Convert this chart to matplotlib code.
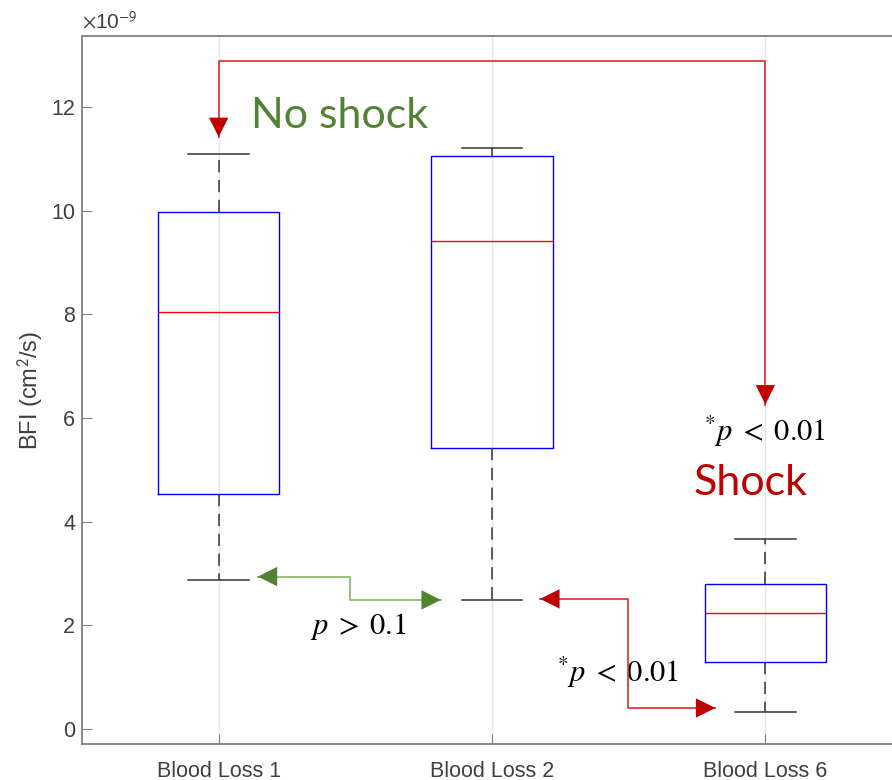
import numpy as np
import matplotlib
matplotlib.use('Agg')
import matplotlib.pyplot as plt

plt.rcParams['font.family'] = ['Liberation Sans', 'DejaVu Sans']
plt.rcParams['mathtext.fontset'] = 'stix'

# valores en unidades de 1e-9 cm2/s
grupos = ['Blood Loss 1', 'Blood Loss 2', 'Blood Loss 6']
bigote_alto = [11.10, 11.20, 3.67]
q3 = [9.97, 11.05, 2.80]
mediana = [8.05, 9.41, 2.24]
q1 = [4.53, 5.43, 1.29]
bigote_bajo = [2.88, 2.49, 0.33]

y_ticks = [0, 2, 4, 6, 8, 10, 12]

gris = '#808080'
texto = '#404040'
rojo = '#c00000'
rojo_linea = '#e03a3a'
verde = '#548235'
verde_linea = '#8dbb6e'

fig = plt.figure(figsize=(8.92, 7.8), dpi=100)
ax = fig.add_axes([82/892, 36/780, 820/892, 708/780])

stats = []
for i in range(len(grupos)):
    stats.append(dict(med=mediana[i], q1=q1[i], q3=q3[i],
                      whislo=bigote_bajo[i], whishi=bigote_alto[i], fliers=[]))

pos = np.arange(1, len(grupos) + 1)
ax.bxp(stats, positions=pos, widths=0.443, showfliers=False,
       boxprops=dict(color='#0000ff', lw=1.0),
       medianprops=dict(color='#ff0000', lw=1.0),
       whiskerprops=dict(color='#333333', lw=1.1, linestyle=(0, (8, 5))),
       capprops=dict(color='#333333', lw=1.1), capwidths=0.222)

ax.set_xlim(0.5, 3.5)
ax.set_ylim(-0.29, 13.37)
ax.set_yticks(y_ticks)
ax.set_xticks(pos)
ax.set_xticklabels(grupos)
ax.xaxis.grid(True, color='#e6e6e6', lw=1.0, zorder=0)
ax.set_axisbelow(True)
ax.tick_params(direction='in', length=7, color=gris, labelcolor=texto,
               labelsize=15.5, top=False, right=False)
ax.tick_params(axis='x', pad=12)
ax.tick_params(axis='y', pad=5)
for s in ax.spines.values():
    s.set_color(gris)
    s.set_linewidth(1.3)
ax.set_ylabel('BFI (cm$^{\\mathsf{2}}$/s)', fontsize=17, color=texto, labelpad=4)
ax.text(0.0, 1.005, r'$\times$10$^{\mathsf{-9}}$', transform=ax.transAxes, fontsize=15,
        color=texto, ha='left', va='bottom')

# flechas de comparacion
def flecha(xs, ys, c_linea, c_punta, inicio=False):
    ax.plot(xs, ys, color=c_linea, lw=1.3, zorder=4)
    estilo = '-|>,head_length=1.0,head_width=0.5'
    ax.annotate('', xy=(xs[-1], ys[-1]), xytext=(xs[-2], ys[-2]),
                arrowprops=dict(arrowstyle=estilo, color=c_punta, lw=0,
                                shrinkA=0, shrinkB=0, mutation_scale=14), zorder=5)
    if inicio:
        ax.annotate('', xy=(xs[0], ys[0]), xytext=(xs[1], ys[1]),
                    arrowprops=dict(arrowstyle=estilo, color=c_punta, lw=0,
                                    shrinkA=0, shrinkB=0, mutation_scale=14), zorder=5)

flecha([1.0, 1.0, 3.0, 3.0], [11.42, 12.89, 12.89, 6.26], rojo_linea, rojo, inicio=True)
flecha([1.143, 1.48, 1.48, 1.813], [2.94, 2.94, 2.49, 2.49], verde_linea, verde, inicio=True)
flecha([2.176, 2.498, 2.498, 2.817], [2.51, 2.51, 0.405, 0.405], rojo_linea, rojo, inicio=True)

ax.text(1.12, 11.83, 'No shock', fontsize=31, color=verde, family='Lato',
        ha='left', va='center')
ax.text(2.945, 4.75, 'Shock', fontsize=31, color=rojo, family='Lato',
        ha='center', va='center')

ax.text(3.0, 5.74, r'$^{*}p\;<\;0.01$', fontsize=22, color='black',
        ha='center', va='center')
ax.text(1.51, 1.97, r'$p\;>\;0.1$', fontsize=22, color='black',
        ha='center', va='center')
ax.text(2.46, 1.10, r'$^{*}p\;<\;0.01$', fontsize=22, color='black',
        ha='center', va='center')

fig.savefig('out.png', dpi=100)
